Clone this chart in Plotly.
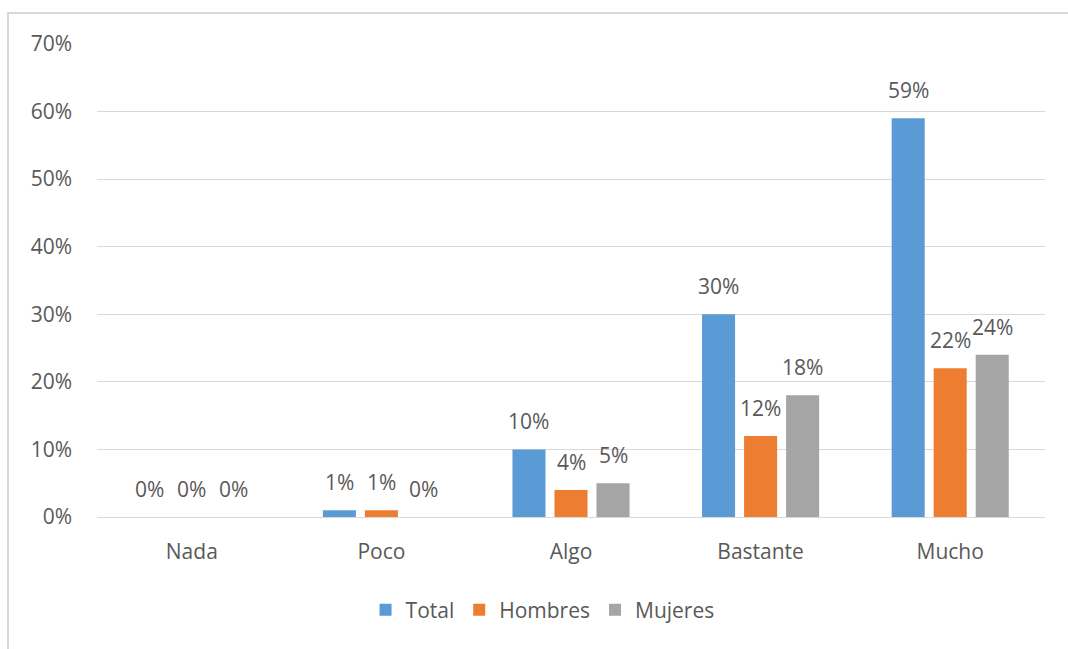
import plotly.graph_objects as go

categories = ["Nada", "Poco", "Algo", "Bastante", "Mucho"]
total = [0.00, 0.01, 0.10, 0.30, 0.59]
hombres = [0.00, 0.01, 0.04, 0.12, 0.22]
mujeres = [0.00, 0.00, 0.05, 0.18, 0.24]
y_ticks = [0.0, 0.1, 0.2, 0.3, 0.4, 0.5, 0.6, 0.7]

series = [
    ("Total", total, "#5B9BD5"),
    ("Hombres", hombres, "#ED7D31"),
    ("Mujeres", mujeres, "#A5A5A5"),
]

FONT = "Open Sans, Noto Sans, sans-serif"
TEXT = "#595959"
BARGAP = 0.335
GROUPGAP = 0.214

fig = go.Figure()
for name, vals, color in series:
    fig.add_trace(go.Bar(
        name=name,
        x=categories,
        y=vals,
        marker=dict(color=color, line=dict(width=0)),
    ))

# value labels above each bar, offset to the bar's slot within its group
slot = (1 - BARGAP) / len(series)
for i, (name, vals, color) in enumerate(series):
    off = (i - (len(series) - 1) / 2) * slot
    for j, v in enumerate(vals):
        fig.add_annotation(
            x=j + off, y=v, xref="x", yref="y",
            text=f"{round(v * 100)}%",
            showarrow=False, yanchor="bottom", yshift=12,
            font=dict(family=FONT, size=21, color=TEXT),
        )

# chart frame
fig.add_shape(type="rect", xref="paper", yref="paper",
              x0=-89 / 948, x1=1.2, y0=-0.3, y1=(517 - 13) / 473,
              line=dict(color="#D9D9D9", width=2), fillcolor="rgba(0,0,0,0)",
              layer="below")

fig.update_layout(
    width=1068, height=649,
    margin=dict(l=97, r=23, t=44, b=132),
    paper_bgcolor="white", plot_bgcolor="white",
    barmode="group", bargap=BARGAP, bargroupgap=GROUPGAP,
    font=dict(family=FONT, size=21, color=TEXT),
    showlegend=True,
    legend=dict(orientation="h", x=0.47, xanchor="center", y=-0.197, yanchor="middle",
                font=dict(family=FONT, size=21, color=TEXT),
                itemwidth=30, traceorder="normal"),
    xaxis=dict(type="category", showgrid=False, showline=True,
               linecolor="#D9D9D9", linewidth=1, ticks="",
               ticklabelstandoff=16,
               tickfont=dict(family=FONT, size=21, color=TEXT)),
    yaxis=dict(range=[0, 0.7], tickvals=y_ticks, tickformat=".0%",
               showgrid=True, gridcolor="#D9D9D9", gridwidth=1,
               zeroline=False, showline=False, ticks="",
               ticklabelstandoff=24,
               tickfont=dict(family=FONT, size=21, color=TEXT)),
)

fig.write_html("out.html")
